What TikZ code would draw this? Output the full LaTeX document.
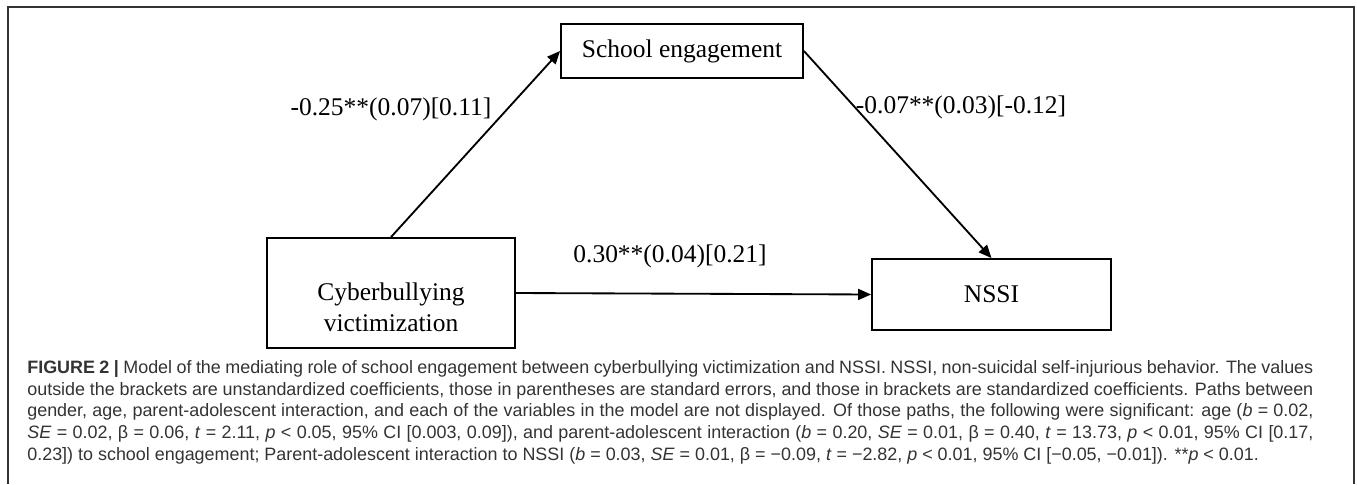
\documentclass[tikz,border=0pt]{standalone}
\usepackage{fontspec}
\setmainfont{Liberation Serif}
\newfontfamily\capfont{Liberation Sans}
\usetikzlibrary{arrows.meta}
\definecolor{capgray}{gray}{0.2}
\newlength{\capwidth}
\setlength{\capwidth}{257.2mm}
\tikzset{
  varbox/.style={draw, line width=1.05pt, inner sep=0pt},
  vartext/.style={align=center, font=\fontsize{14.5}{17.6}\selectfont},
  coef/.style={inner sep=0pt, font=\fontsize{14.5}{17.6}\selectfont},
  link/.style={line width=1.05pt, -{Triangle[length=2.6mm,width=2.2mm]}},
  capline/.style={anchor=base west, inner sep=0pt, text=capgray, font=\capfont\fontsize{10.2}{12.3}\selectfont}
}

\begin{document}
\begin{tikzpicture}[x=0.2mm,y=-0.2mm]
		\useasboundingbox (0,0) rectangle (1357,484);
		%%%%% FRAME %%%%%
		\draw[line width=0.6pt, black!80] (8,484) -- (8,7) -- (1354,7) -- (1354,484);
		
		%%%%% VARIABLES %%%%%
		\node[varbox, minimum width=49.6mm, minimum height=22mm] (cyber) at (391,293) {};
		\node[vartext] (cybertext) at (391,307) {Cyberbullying\\victimization};
		\node[varbox, vartext, minimum width=48.4mm, minimum height=10.8mm] (school) at (682,51) {School engagement};
		\node[varbox, vartext, minimum width=47.8mm, minimum height=14.2mm] (nssi) at (991.5,294.5) {NSSI};
		
		\draw[link] (cyber.north) -- (school.west);
		\draw[link] (school.east) -- (nssi.north);
		\draw[link] (cyber.east) -- (nssi.west);
		
		\node[coef] (pathA) at (391,109) {-0.25**(0.07)[0.11]};
		\node[coef] (pathB) at (961,107) {-0.07**(0.03)[-0.12]};
		\node[coef] (pathC) at (670,256) {0.30**(0.04)[0.21]};
		
		%%%%% CAPTION %%%%%
		\node[capline] (cap1) at (27,373.3) {\makebox[\capwidth][s]{\textbf{FIGURE 2 |} Model of the mediating role of school engagement between cyberbullying victimization and NSSI. NSSI, non-suicidal self-injurious behavior. The values}};
		\node[capline] (cap2) at (27,395) {\makebox[\capwidth][s]{outside the brackets are unstandardized coefficients, those in parentheses are standard errors, and those in brackets are standardized coefficients. Paths between}};
		\node[capline] (cap3) at (27,416.7) {\makebox[\capwidth][s]{gender, age, parent-adolescent interaction, and each of the variables in the model are not displayed. Of those paths, the following were significant: age (\textit{b} = 0.02,}};
		\node[capline] (cap4) at (27,438.3) {\makebox[\capwidth][s]{\textit{SE} = 0.02, β = 0.06, \textit{t} = 2.11, \textit{p} < 0.05, 95\% CI [0.003, 0.09]), and parent-adolescent interaction (\textit{b} = 0.20, \textit{SE} = 0.01, β = 0.40, \textit{t} = 13.73, \textit{p} < 0.01, 95\% CI [0.17,}};
		\node[capline] (cap5) at (27,460) {0.23]) to school engagement; Parent-adolescent interaction to NSSI (\textit{b} = 0.03, \textit{SE} = 0.01, β = −0.09, \textit{t} = −2.82, \textit{p} < 0.01, 95\% CI [−0.05, −0.01]). **\textit{p} < 0.01.};
	\end{tikzpicture}
\end{document}
